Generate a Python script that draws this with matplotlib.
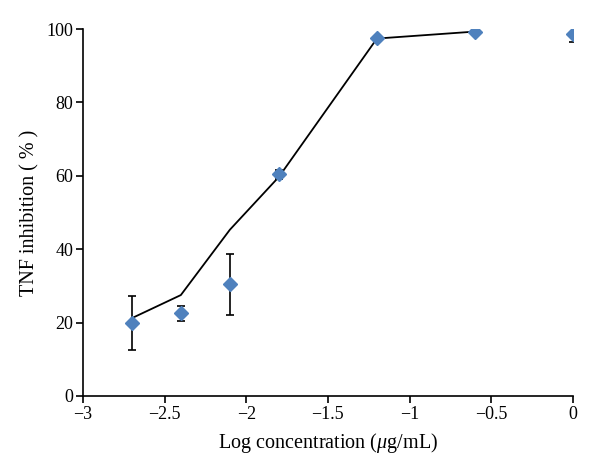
import matplotlib
matplotlib.use("Agg")
import matplotlib.pyplot as plt

# Data
x_points = [-2.7, -2.4, -2.1, -1.8, -1.2, -0.6, 0.0]
y_points = [19.9, 22.5, 30.5, 60.4, 97.5, 99.2, 98.6]
y_err = [7.4, 2.0, 8.3, 1.3, 0.0, 0.0, 2.1]

x_fit = [-2.7, -2.4, -2.1, -1.8, -1.2, -0.6]
y_fit = [21.2, 27.5, 45.3, 59.7, 97.4, 99.3]

x_ticks = [-3, -2.5, -2, -1.5, -1, -0.5, 0]
y_ticks = [0, 20, 40, 60, 80, 100]

plt.rcParams['font.family'] = ['Liberation Serif', 'DejaVu Serif']
plt.rcParams['mathtext.fontset'] = 'custom'
plt.rcParams['mathtext.rm'] = 'Liberation Serif'
plt.rcParams['mathtext.it'] = 'Liberation Serif:italic'

fig = plt.figure(figsize=(6, 4.74), dpi=100)
ax = fig.add_axes([0.138, 0.1646, 0.817, 0.7742])

ax.plot(x_fit, y_fit, color='black', linewidth=1.3, zorder=2)
ax.errorbar(x_points, y_points, yerr=y_err, fmt='none', ecolor='black',
            elinewidth=1.2, capsize=3, capthick=1.2, zorder=3)
ax.plot(x_points, y_points, linestyle='none', marker='D', markersize=7,
        color='#4F81BD', markeredgecolor='#4F81BD', zorder=4)

ax.set_xlim(-3, 0)
ax.set_ylim(0, 100)
ax.set_xticks(x_ticks)
ax.set_yticks(y_ticks)
ax.set_xticklabels(['\u2212' + str(abs(v)) if v < 0 else str(v) for v in x_ticks])

for s in ['top', 'right']:
    ax.spines[s].set_visible(False)
for s in ['left', 'bottom']:
    ax.spines[s].set_linewidth(1.2)
ax.tick_params(direction='out', length=5, width=1.2, labelsize=13, pad=2)

ax.set_xlabel(r'Log concentration ($\mu$g/mL)', fontsize=14.5, labelpad=6)
ax.set_ylabel('TNF inhibition ( % )', fontsize=14.5, labelpad=5)

fig.savefig('out.png', dpi=100)
